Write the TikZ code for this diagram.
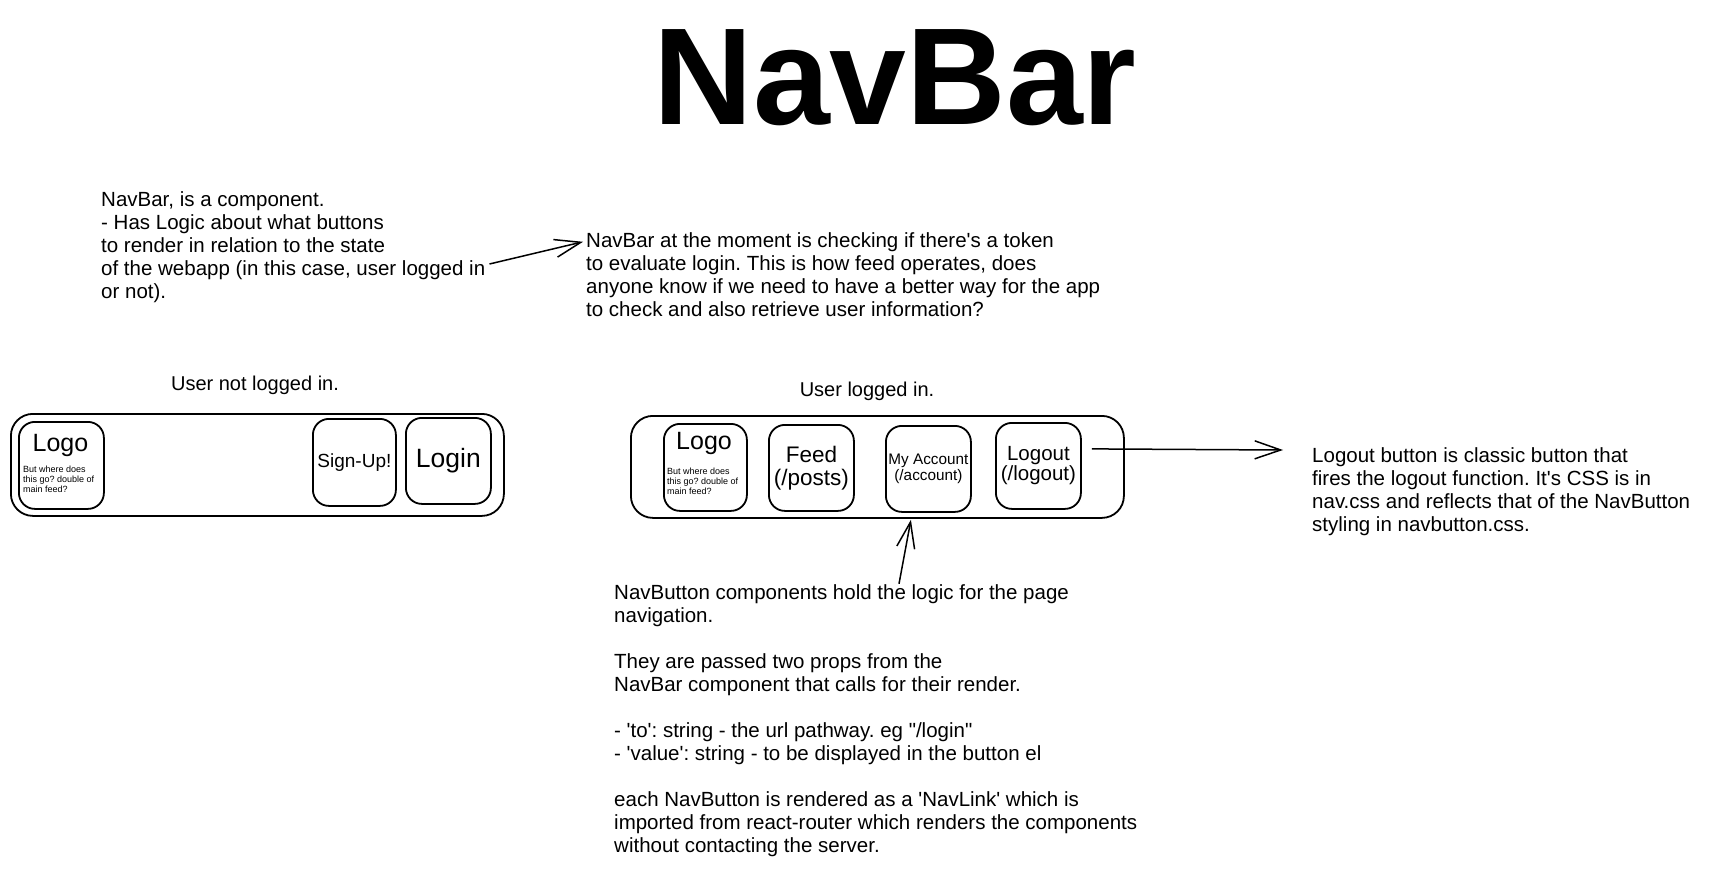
\documentclass[tikz,border=0pt]{standalone}
\usepackage{fontspec}
\setmainfont{Liberation Sans}[Ligatures=TeXOff]
\usetikzlibrary{arrows.meta}
\frenchspacing
\begin{document}
\begin{tikzpicture}[x=1pt,y=-1pt,
  box/.style={draw, line width=1.8pt, rounded corners=16pt, inner sep=0pt, anchor=north west, minimum width=85pt, minimum height=86pt, align=center},
  bar/.style={draw, line width=1.8pt, rounded corners=22pt, inner sep=0pt, anchor=north west, minimum width=493pt, minimum height=102pt},
  note/.style={anchor=west, align=left, inner sep=0pt, font={\fontsize{20.5}{23}\selectfont}},
  lbl/.style={inner sep=0pt, font={\fontsize{20}{23}\selectfont}},
  small/.style={anchor=west, align=left, inner sep=0pt, font={\fontsize{9}{10}\selectfont}},
  conn/.style={line width=1.5pt, -{Straight Barb[length=26pt,width=18pt,line width=1.5pt]}},
]
\useasboundingbox (0,0) rectangle (1734,869);

% title
\node[anchor=base, inner sep=0pt, font={\fontsize{138}{140}\selectfont\bfseries}] (title) at (895,125) {NavBar};

% notes
\node[note] (leftnote) at (101,248) {\strut NavBar, is a component.\\
- Has Logic about what buttons\\
to render in relation to the state\\
of the webapp (in this case, user logged in\\
or not).\strut};

\node[note] (midnote) at (586,277) {\strut NavBar at the moment is checking if there's a token\\
to evaluate login. This is how feed operates, does\\
anyone know if we need to have a better way for the app\\
to check and also retrieve user information?\strut};

\node[note] (rightnote) at (1312,492) {\strut Logout button is classic button that\\
fires the logout function. It's CSS is in\\
nav.css and reflects that of the NavButton\\
styling in navbutton.css.\strut};

\node[note] (bottomnote) at (614,721) {\strut NavButton components hold the logic for the page\\
navigation.\\[23pt]
They are passed two props from the\\
NavBar component that calls for their render.\\[23pt]
- 'to': string - the url pathway. eg "/login"\\
- 'value': string - to be displayed in the button el\\[23pt]
each NavButton is rendered as a 'NavLink' which is\\
imported from react-router which renders the components\\
without contacting the server.\strut};

% labels
\node[lbl] (lblout) at (255,385) {User not logged in.};
\node[lbl] (lblin) at (867,391) {User logged in.};

% left bar (not logged in)
\node[bar] (leftbar) at (10,413) {};
\node[box, minimum width=85pt, minimum height=87pt] (logoA) at (18,421) {};
\node[inner sep=0pt, font={\fontsize{25}{28}\selectfont}] (logoAt) at (60.5,445) {Logo};
\node[small] (logoAs) at (23,480) {\strut But where does\\this go? double of\\main feed?\strut};
\node[box, minimum width=83pt, minimum height=87pt, font={\fontsize{19}{22}\selectfont}] (signup) at (312,418) {Sign-Up!};
\node[box, minimum width=85pt, minimum height=86pt, font={\fontsize{26.5}{28}\selectfont}] (login) at (405,417) {Login};

% right bar (logged in)
\node[bar] (rightbar) at (630,415) {};
\node[box, minimum width=83pt, minimum height=87pt] (logoB) at (663,423) {};
\node[inner sep=0pt, font={\fontsize{25}{28}\selectfont}] (logoBt) at (704,443) {Logo};
\node[small] (logoBs) at (667,482) {\strut But where does\\this go? double of\\main feed?\strut};
\node[box, font={\fontsize{22.5}{23}\selectfont}] (feed) at (768,424) {Feed\\(/posts)};
\node[box, font={\fontsize{15.3}{16}\selectfont}] (account) at (885,425) {My Account\\(/account)};
\node[box, font={\fontsize{20.5}{20}\selectfont}] (logout) at (995,422) {Logout\\(/logout)};

% connectors
\draw[conn] ([shift={(4,16)}]leftnote.east) -- ([shift={(-3,11)}]midnote.north west);
\draw[conn] ([shift={(10,-17)}]logout.east) -- ([shift={(-29,-42)}]rightnote.west);
\draw[conn] ([shift={(285,1)}]bottomnote.north west) -- ([shift={(33.5,1)}]rightbar.south);
\end{tikzpicture}
\end{document}
